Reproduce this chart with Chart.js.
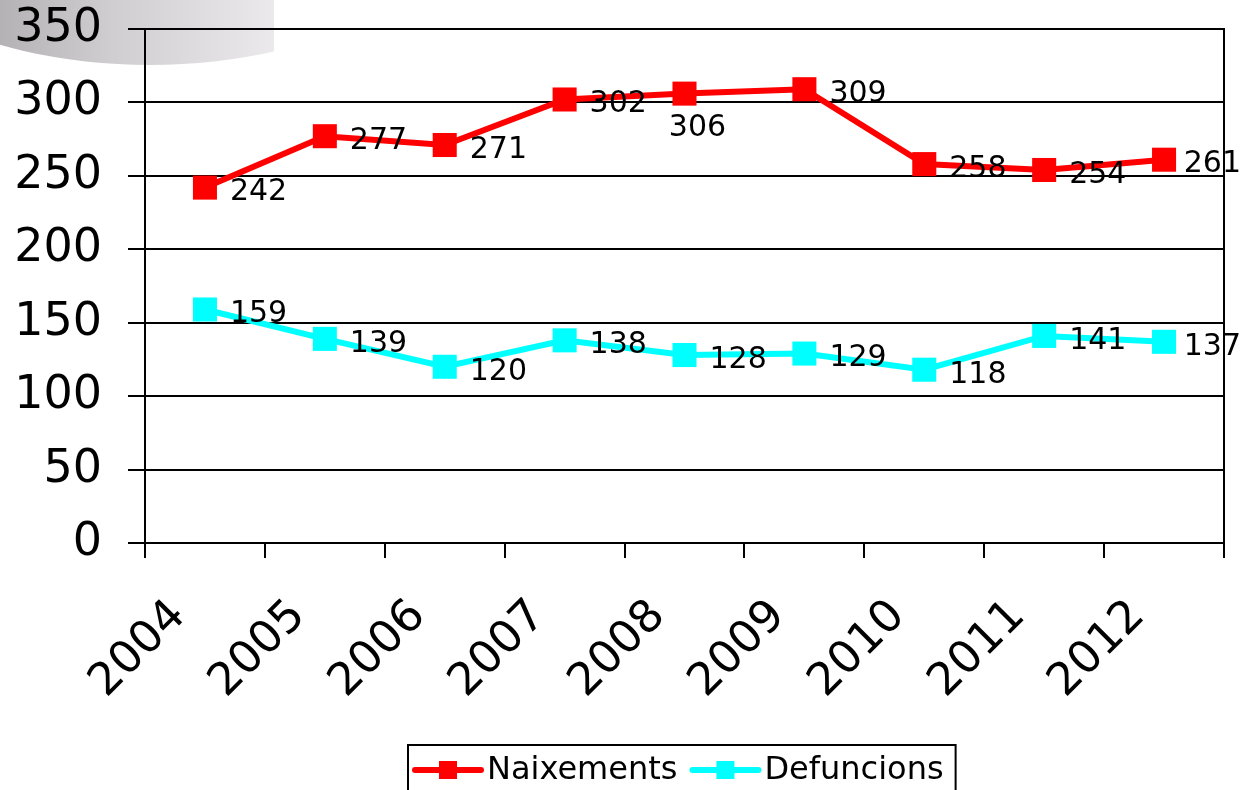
<!DOCTYPE html>
<html>
<head>
<meta charset="utf-8">
<script src="https://cdn.jsdelivr.net/npm/chart.js@4"></script>
<style>
  body { margin: 0; background: #fff; }
  canvas { display: block; }
</style>
</head>
<body>
<canvas id="chart" width="1241" height="790"></canvas>
<script>
// data
const years = ['2004', '2005', '2006', '2007', '2008', '2009', '2010', '2011', '2012']
const naixements = [242, 277, 271, 302, 306, 309, 258, 254, 261]
const defuncions = [159, 139, 120, 138, 128, 129, 118, 141, 137]
const yTicks = [0, 50, 100, 150, 200, 250, 300, 350]

const FONT = "'DejaVu Sans', Verdana, sans-serif"

//grey blob in the top left corner (bit of a logo in the original slide)
const logoBlob = {
  id: 'logoBlob',
  beforeDraw(chart) {
    const ctx = chart.ctx
    ctx.save()
    ctx.beginPath()
    ctx.rect(0, 0, 274, 80)
    ctx.clip()
    const g = ctx.createLinearGradient(0, 0, 274, 0)
    g.addColorStop(0, '#b4b2b4')
    g.addColorStop(0.4, '#cfcdcf')
    g.addColorStop(1, '#ebe9eb')
    ctx.fillStyle = g
    ctx.beginPath()
    ctx.ellipse(150, -120, 330, 185, 0, 0, Math.PI * 2)
    ctx.fill()
    ctx.restore()
  }
}

//right border of the plot area
const plotBorder = {
  id: 'plotBorder',
  afterDraw(chart) {
    const a = chart.chartArea
    const ctx = chart.ctx
    ctx.save()
    ctx.strokeStyle = '#000'
    ctx.lineWidth = 2
    ctx.beginPath()
    ctx.moveTo(a.right, a.top - 1)
    ctx.lineTo(a.right, a.bottom)
    ctx.stroke()
    ctx.restore()
  }
}

//value labels next to each marker
const valueLabels = {
  id: 'valueLabels',
  afterDatasetsDraw(chart, args, opts) {
    const ctx = chart.ctx
    ctx.save()
    ctx.font = '30px ' + FONT
    ctx.fillStyle = '#000'
    ctx.textBaseline = 'middle'
    ctx.textAlign = 'left'
    chart.data.datasets.forEach((ds, di) => {
      const meta = chart.getDatasetMeta(di)
      meta.data.forEach((pt, i) => {
        const txt = String(ds.data[i])
        const w = ctx.measureText(txt).width
        let x = pt.x + 25
        let y = pt.y + 5
        if (opts.below[di] && opts.below[di].includes(i)) { //excel pushed this one under the line
          x = pt.x + 13 - w / 2
          y = pt.y + 35
        }
        if (x + w > chart.width) x = chart.width - w
        ctx.fillText(txt, x, y)
      })
    })
    ctx.restore()
  }
}

//boxed legend at the bottom, line + square marker like excel
const boxLegend = {
  id: 'boxLegend',
  afterDraw(chart) {
    const ctx = chart.ctx
    ctx.save()
    ctx.font = '32px ' + FONT
    ctx.textBaseline = 'middle'
    const cy = 770
    const lineW = 66
    const gap = 6
    const itemGap = 15
    const items = chart.data.datasets.map(ds => ({ label: ds.label, color: ds.borderColor, w: ctx.measureText(ds.label).width }))
    const total = items.reduce((s, it) => s + lineW + gap + it.w, 0) + itemGap * (items.length - 1)
    const left = 415
    const boxL = left - 7
    const boxR = left + total + 12
    ctx.strokeStyle = '#000'
    ctx.lineWidth = 2
    ctx.strokeRect(boxL, 745, boxR - boxL, 60)
    let x = left
    items.forEach(it => {
      ctx.strokeStyle = it.color
      ctx.lineWidth = 6
      ctx.lineCap = 'round'
      ctx.beginPath()
      ctx.moveTo(x, cy)
      ctx.lineTo(x + lineW, cy)
      ctx.stroke()
      ctx.fillStyle = it.color
      ctx.fillRect(x + lineW / 2 - 9, cy - 9, 18, 18)
      ctx.fillStyle = '#000'
      ctx.fillText(it.label, x + lineW + gap, cy + 1)
      x += lineW + gap + it.w + itemGap
    })
    ctx.restore()
  }
}

new Chart(document.getElementById('chart'), {
  type: 'line',
  data: {
    labels: years,
    datasets: [
      {
        label: 'Naixements',
        data: naixements,
        borderColor: '#ff0000',
        backgroundColor: '#ff0000',
        borderWidth: 6,
        pointStyle: 'rect',
        pointRadius: 17,
        pointBorderWidth: 0,
        tension: 0
      },
      {
        label: 'Defuncions',
        data: defuncions,
        borderColor: '#00ffff',
        backgroundColor: '#00ffff',
        borderWidth: 6,
        pointStyle: 'rect',
        pointRadius: 17,
        pointBorderWidth: 0,
        tension: 0
      }
    ]
  },
  options: {
    responsive: false,
    animation: false,
    layout: { padding: { top: 29, right: 14, left: 0, bottom: 0 } },
    plugins: {
      legend: { display: false },
      tooltip: { enabled: false },
      valueLabels: { below: { 0: [4] } }
    },
    scales: {
      x: {
        offset: true,
        afterFit: s => { s.height = 247; s.paddingTop = 0; s.paddingRight = 0 },
        grid: { offset: true, drawOnChartArea: false, drawTicks: true, tickLength: 15, color: '#000', lineWidth: 2 },
        border: { display: true, color: '#000', width: 2 },
        ticks: {
          autoSkip: false,
          minRotation: 45,
          maxRotation: 45,
          padding: 32,
          labelOffset: -26,
          color: '#000',
          font: { family: FONT, size: 45 }
        }
      },
      y: {
        min: 0,
        max: 350,
        afterFit: s => { s.width = 145; s.paddingTop = 0; s.paddingBottom = 0 },
        afterBuildTicks: s => { s.ticks = yTicks.map(v => ({ value: v })) },
        grid: { color: '#000', lineWidth: 2, tickLength: 17 },
        border: { display: true, color: '#000', width: 2 },
        ticks: {
          padding: 26,
          color: '#000',
          font: { family: FONT, size: 46 }
        }
      }
    }
  },
  plugins: [logoBlob, plotBorder, valueLabels, boxLegend]
})
</script>
</body>
</html>
